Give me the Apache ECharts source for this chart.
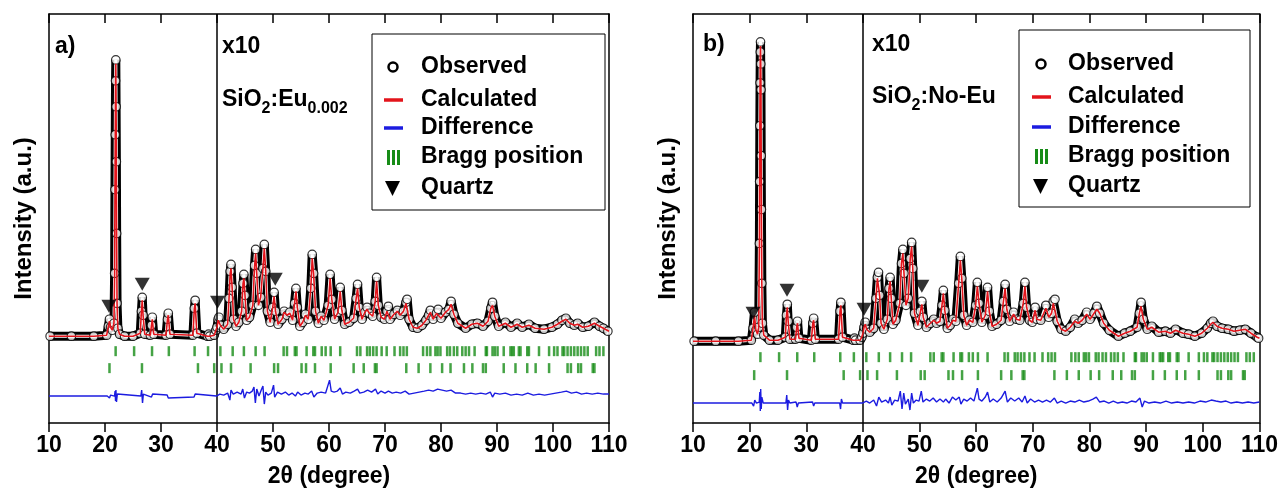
<!DOCTYPE html>
<html>
<head>
<meta charset="utf-8">
<script src="https://cdn.jsdelivr.net/npm/echarts@6/dist/echarts.min.js"></script>
<style>
html,body{margin:0;padding:0;background:#fff;}
#chart{width:1281px;height:493px;}
</style>
</head>
<body>
<div id="chart"></div>
<script>
// ---------- DATA (2θ in degrees, intensity in arbitrary units) ----------
var xTicks = [10, 20, 30, 40, 50, 60, 70, 80, 90, 100, 110];

// Panel a) SiO2:Eu0.002 — observed points [2θ, I]
var obsA = [
 [10.2,87],[14,87],[18,87],[20.3,88],[20.6,97],[20.8,104],[21.0,96],[21.3,93],[21.6,100],[21.72,150],[21.78,234],[21.83,289],[21.88,343],[21.93,364],[21.98,317],[22.03,262],[22.08,190],[22.15,120],[22.3,95],[22.6,89],[23.5,87],[25,87],[26.3,90],[26.5,112],[26.65,126],[26.8,108],[27.1,89],[28.1,88],[28.3,98],[28.45,106],[28.7,89],[30.9,88],[31.15,104],[31.3,110],[31.6,89],[35.7,88],[35.95,115],[36.1,123],[36.4,90],[38.3,87],[38.5,89],[38.7,87],[39.5,88],[39.8,93],[40.0,96],
 [40.2,104],[40.35,106],[40.6,98],[41.2,94],[41.9,99],[42.15,125],[42.35,152],[42.5,159],[42.7,136],[42.95,104],[43.4,97],[43.9,101],[44.4,112],[44.65,140],[44.8,149],[45.0,128],[45.3,103],[45.8,106],[46.4,118],[46.7,158],[46.9,174],[47.1,150],[47.4,118],[47.8,126],[48.2,155],[48.45,179],[48.7,152],[49.0,112],[49.5,101],[49.95,116],[50.2,131],[50.45,112],[50.9,99],[51.6,104],[52.0,112],[52.5,108],[53.0,111],[53.5,103],[53.85,120],[54.1,135],[54.35,116],[54.8,97],[55.3,101],[55.8,109],[56.3,104],[56.75,135],[57.0,169],[57.25,150],[57.6,112],[58.1,100],[58.6,107],[59.1,103],[59.85,118],[60.2,149],[60.5,124],[61.0,104],[61.6,111],[62.0,136],[62.3,113],[62.8,99],[63.6,101],[64.4,105],[64.85,125],[65.1,139],[65.4,116],[65.9,104],[66.4,111],[66.8,116],[67.2,110],[67.8,107],[68.25,122],[68.5,146],[68.8,118],[69.3,106],[69.9,104],[70.35,112],[70.6,117],[70.9,104],[71.6,109],[72.2,113],[72.7,108],[73.3,112],[73.75,121],[73.95,124],[74.3,104],[75.0,96],[75.8,95],[76.6,98],[77.3,103],[77.8,108],[78.1,113],[78.6,104],[79.2,110],[79.5,114],[80.0,105],[80.8,111],[81.4,114],[81.8,122],[82.3,109],[83.0,100],[84.4,95],[85.5,99],[86.5,100],[87.5,97],[88.4,102],[88.9,115],[89.2,121],[89.6,107],[90.3,97],[91.5,101],[92.5,96],[93.6,100],[94.5,96],[95.7,99],[96.8,95],[98.4,94],[99.8,96],[100.8,99],[101.6,103],[102.3,105],[103.0,100],[103.8,98],[104.4,100],[105.3,96],[106.3,97],[107.4,101],[108.3,97],[109.0,95],[109.8,92]
];
// Panel a) calculated profile [2θ, I]
var calcA = [
 [10,87],[14,87],[18,87],[20.3,88],[20.6,97],[20.8,102],[21.0,96],[21.3,93],[21.6,100],[21.72,150],[21.78,234],[21.83,289],[21.88,343],[21.93,360],[21.98,317],[22.03,262],[22.08,190],[22.15,120],[22.3,95],[22.6,89],[23.5,87],[25,87],[26.3,90],[26.5,112],[26.65,123],[26.8,108],[27.1,89],[28.1,88],[28.3,98],[28.45,104],[28.7,89],[30.9,88],[31.15,104],[31.3,108],[31.6,89],[35.7,88],[35.95,115],[36.1,120],[36.4,90],[38.3,87],[38.5,89],[38.7,87],[39.5,88],[39.8,93],[40.0,96],
 [40.2,103],[40.35,104],[40.6,98],[41.2,94],[41.9,99],[42.15,125],[42.35,150],[42.5,155],[42.7,136],[42.95,104],[43.4,97],[43.9,101],[44.4,112],[44.65,140],[44.8,145],[45.0,128],[45.3,103],[45.8,106],[46.4,118],[46.7,156],[46.9,170],[47.1,150],[47.4,118],[47.8,126],[48.2,155],[48.45,175],[48.7,152],[49.0,112],[49.5,101],[49.95,116],[50.2,127],[50.45,112],[50.9,99],[51.6,104],[52.0,111],[52.5,108],[53.0,110],[53.5,103],[53.85,120],[54.1,132],[54.35,116],[54.8,97],[55.3,101],[55.8,108],[56.3,104],[56.75,135],[57.0,165],[57.25,150],[57.6,112],[58.1,100],[58.6,107],[59.1,103],[59.85,118],[60.2,145],[60.5,124],[61.0,104],[61.6,111],[62.0,132],[62.3,113],[62.8,99],[63.6,101],[64.4,105],[64.85,125],[65.1,135],[65.4,116],[65.9,104],[66.4,111],[66.8,114],[67.2,110],[67.8,107],[68.25,122],[68.5,142],[68.8,118],[69.3,106],[69.9,104],[70.35,112],[70.6,114],[70.9,104],[71.6,109],[72.2,112],[72.7,108],[73.3,112],[73.75,120],[73.95,121],[74.3,104],[75.0,96],[75.8,95],[76.6,98],[77.3,103],[77.8,108],[78.1,111],[78.6,104],[79.2,110],[79.5,112],[80.0,105],[80.8,111],[81.4,114],[81.8,119],[82.3,109],[83.0,100],[84.4,95],[85.5,99],[86.5,100],[87.5,97],[88.4,102],[88.9,115],[89.2,118],[89.6,107],[90.3,97],[91.5,100],[92.5,96],[93.6,99],[94.5,96],[95.7,98],[96.8,95],[98.4,94],[99.8,96],[100.8,99],[101.6,102],[102.3,104],[103.0,100],[103.8,98],[104.4,99],[105.3,96],[106.3,97],[107.4,100],[108.3,97],[109.0,95],[110.0,92]
];
// Panel a) difference curve [2θ, I]
var diffA = [
 [10,27],[20.4,27],[20.8,25],[21.0,28],[21.7,27],[21.8,32],[21.88,22],[21.95,33],[22.05,21],[22.2,29],[22.5,27],[26.4,27],[26.55,33],[26.7,20],[26.85,29],[27.1,27],[28.3,26],[28.5,29],[28.7,27],[31.1,28],[31.3,25],[31.5,27],[35.9,26],[36.1,29],[36.3,27],[39.9,27],[40.0,28],[40.5,29],[41.2,28],[41.9,30],[42.3,23],[42.5,33],[42.9,29],[43.6,31],[44.3,29],[44.6,34],[44.9,25],[45.3,31],[45.8,30],[46.3,32],[46.6,36],[46.85,20],[47.1,34],[47.5,27],[47.9,33],[48.2,37],[48.45,19],[48.7,31],[49.1,28],[49.7,30],[50.1,38],[50.3,26],[50.8,31],[51.5,29],[52.2,31],[52.8,28],[53.4,30],[54.0,27],[54.4,31],[55.0,28],[55.7,30],[56.3,29],[56.9,32],[57.3,26],[57.9,30],[58.6,31],[59.4,30],[60.1,43],[60.4,32],[60.9,31],[61.5,32],[62.0,35],[62.4,29],[63.0,31],[63.8,30],[64.5,32],[65.1,34],[65.5,30],[66.2,31],[66.9,33],[67.6,31],[68.3,34],[68.7,29],[69.3,32],[70.0,30],[70.6,32],[71.3,30],[72.0,31],[72.8,30],[73.6,32],[74.3,29],[75.2,30],[76.1,31],[77.0,32],[77.8,33],[78.6,32],[79.4,34],[80.2,33],[81.0,32],[81.8,33],[82.6,30],[83.5,30],[84.4,29],[85.3,30],[86.2,29],[87.1,30],[88.0,29],[88.8,31],[89.2,26],[89.6,30],[90.5,29],[91.5,30],[92.5,28],[93.5,29],[94.5,28],[95.5,30],[96.5,28],[97.5,29],[98.5,28],[99.5,29],[100.5,30],[101.5,31],[102.4,32],[103.3,30],[104.2,31],[105.1,29],[106.0,30],[107.0,29],[108.0,30],[109.0,29],[110,29]
];
// Panel a) quartz markers [2θ, I]
var quartzA = [[20.7,117],[26.65,139],[40.1,121],[50.4,144]];

// Panel b) SiO2:No-Eu — observed points [2θ, I]
var obsB = [
 [10.2,82],[14,82],[18,82],[20.3,83],[20.6,95],[20.85,111],[21.1,93],[21.4,89],[21.6,96],[21.72,180],[21.76,242],[21.8,298],[21.84,341],[21.88,372],[21.92,382],[21.96,360],[22.0,334],[22.04,268],[22.08,214],[22.15,140],[22.25,100],[22.5,88],[23.5,83],[25,83],[26.3,86],[26.5,108],[26.65,119],[26.8,102],[27.1,84],[28.1,84],[28.3,96],[28.45,102],[28.7,85],[30.9,83],[31.15,100],[31.3,105],[31.6,84],[35.7,84],[35.95,112],[36.1,121],[36.4,86],[38.3,83],[38.5,85],[38.7,83],[39.5,83],[39.8,86],[40.0,90],
 [40.2,96],[40.4,101],[40.65,94],[41.2,91],[41.9,95],[42.3,125],[42.55,146],[42.75,151],[42.95,128],[43.2,100],[43.7,94],[44.3,104],[44.6,135],[44.8,146],[45.0,125],[45.3,99],[45.8,103],[46.5,120],[46.8,160],[47.05,174],[47.25,150],[47.6,118],[48.0,125],[48.35,165],[48.6,181],[48.8,155],[49.1,110],[49.7,98],[50.15,112],[50.4,122],[50.65,106],[51.2,96],[51.9,100],[52.5,104],[53.0,100],[53.6,102],[53.95,118],[54.2,133],[54.45,113],[54.9,95],[55.4,98],[55.9,104],[56.4,102],[56.9,140],[57.2,167],[57.45,145],[57.8,108],[58.3,98],[58.8,103],[59.4,101],[59.9,118],[60.2,141],[60.5,120],[61.0,101],[61.6,108],[62.0,136],[62.3,112],[62.8,97],[63.6,99],[64.4,103],[64.8,122],[65.1,139],[65.4,114],[65.9,102],[66.6,111],[67.1,104],[67.7,103],[68.3,120],[68.6,141],[68.9,116],[69.4,103],[69.9,101],[70.4,116],[70.7,104],[71.4,103],[72.3,118],[72.8,106],[73.3,110],[73.6,122],[73.9,124],[74.3,102],[75.0,94],[75.8,92],[76.6,96],[77.4,104],[78.0,100],[78.7,103],[79.5,111],[80.1,104],[80.8,110],[81.3,117],[81.8,110],[82.5,100],[83.5,93],[85.1,87],[86.2,90],[87.2,92],[88.4,96],[88.8,110],[89.1,121],[89.5,104],[90.2,94],[91.0,97],[92.2,91],[93.4,92],[94.3,90],[95.2,94],[96.5,90],[97.5,89],[98.6,87],[99.8,90],[100.8,95],[101.4,100],[101.8,102],[102.5,97],[103.4,95],[104.5,94],[105.5,92],[106.5,93],[107.5,94],[108.5,90],[109.6,86],[109.85,85]
];
// Panel b) calculated profile [2θ, I]
var calcB = [
 [10,82],[14,82],[18,82],[20.3,83],[20.6,95],[20.85,108],[21.1,93],[21.4,89],[21.6,96],[21.72,180],[21.76,242],[21.8,298],[21.84,341],[21.88,370],[21.92,378],[21.96,360],[22.0,334],[22.04,268],[22.08,214],[22.15,140],[22.25,100],[22.5,88],[23.5,83],[25,83],[26.3,86],[26.5,108],[26.65,116],[26.8,102],[27.1,84],[28.1,84],[28.3,96],[28.45,100],[28.7,85],[30.9,83],[31.15,100],[31.3,103],[31.6,84],[35.7,84],[35.95,112],[36.1,118],[36.4,86],[38.3,83],[38.5,85],[38.7,83],[39.5,83],[39.8,86],[40.0,90],
 [40.2,96],[40.4,99],[40.65,94],[41.2,91],[41.9,95],[42.3,125],[42.55,145],[42.75,147],[42.95,128],[43.2,100],[43.7,94],[44.3,104],[44.6,135],[44.8,142],[45.0,125],[45.3,99],[45.8,103],[46.5,120],[46.8,160],[47.05,170],[47.25,150],[47.6,118],[48.0,125],[48.35,165],[48.6,177],[48.8,155],[49.1,110],[49.7,98],[50.15,112],[50.4,119],[50.65,106],[51.2,96],[51.9,100],[52.5,103],[53.0,100],[53.6,102],[53.95,118],[54.2,130],[54.45,113],[54.9,95],[55.4,98],[55.9,103],[56.4,102],[56.9,140],[57.2,163],[57.45,145],[57.8,108],[58.3,98],[58.8,103],[59.4,101],[59.9,118],[60.2,137],[60.5,120],[61.0,101],[61.6,108],[62.0,132],[62.3,112],[62.8,97],[63.6,99],[64.4,103],[64.8,122],[65.1,135],[65.4,114],[65.9,102],[66.6,109],[67.1,104],[67.7,103],[68.3,120],[68.6,137],[68.9,116],[69.4,103],[69.9,101],[70.4,113],[70.7,104],[71.4,103],[72.3,115],[72.8,106],[73.3,110],[73.6,120],[73.9,121],[74.3,102],[75.0,94],[75.8,92],[76.6,96],[77.4,102],[78.0,100],[78.7,103],[79.5,109],[80.1,104],[80.8,110],[81.3,114],[81.8,110],[82.5,100],[83.5,93],[85.1,87],[86.2,90],[87.2,92],[88.4,96],[88.8,110],[89.1,117],[89.5,104],[90.2,94],[91.0,96],[92.2,91],[93.4,92],[94.3,90],[95.2,93],[96.5,90],[97.5,89],[98.6,87],[99.8,90],[100.8,95],[101.4,99],[101.8,101],[102.5,97],[103.4,95],[104.5,94],[105.5,92],[106.5,93],[107.5,94],[108.5,90],[109.6,86],[110.0,85]
];
// Panel b) difference curve [2θ, I]
var diffB = [
 [10,20],[18,20],[20.4,20],[20.7,17],[20.9,23],[21.2,20],[21.7,21],[21.8,31],[21.88,12],[21.95,34],[22.05,14],[22.15,26],[22.4,20],[26.4,20],[26.55,28],[26.7,13],[26.85,23],[27.1,20],[28.2,21],[28.4,16],[28.6,20],[31.1,21],[31.3,17],[31.5,20],[35.9,20],[36.05,14],[36.2,24],[36.4,20],[39.9,20],[40.0,21],[40.6,22],[41.2,20],[41.9,23],[42.4,17],[42.8,26],[43.3,21],[44.0,23],[44.5,20],[44.8,26],[45.1,18],[45.6,23],[46.2,22],[46.6,32],[46.9,14],[47.2,30],[47.5,19],[48.0,24],[48.3,13],[48.6,30],[48.9,20],[49.4,23],[49.9,22],[50.3,32],[50.6,21],[51.2,24],[51.8,22],[52.4,25],[53.0,21],[53.6,24],[54.2,21],[54.6,24],[55.2,20],[55.8,26],[56.4,23],[57.0,26],[57.3,19],[57.8,24],[58.4,22],[59.0,25],[59.6,22],[60.2,35],[60.5,24],[61.0,22],[61.6,26],[62.0,31],[62.4,21],[63.0,24],[63.7,21],[64.4,25],[65.1,32],[65.5,21],[66.1,25],[66.8,22],[67.5,25],[68.1,21],[68.6,27],[69.0,20],[69.6,24],[70.3,21],[71.0,23],[71.7,21],[72.4,23],[73.1,21],[73.8,25],[74.3,20],[75.0,22],[75.8,20],[76.6,22],[77.4,21],[78.2,23],[79.0,21],[79.8,22],[80.6,24],[81.2,26],[81.8,21],[82.6,22],[83.4,20],[84.2,22],[85.0,20],[85.8,21],[86.6,20],[87.4,22],[88.2,21],[88.9,25],[89.3,16],[89.7,22],[90.5,20],[91.5,21],[92.5,20],[93.5,22],[94.5,20],[95.5,21],[96.5,20],[97.5,21],[98.5,20],[99.5,22],[100.5,21],[101.5,23],[102.3,22],[103.2,21],[104.1,22],[105.0,20],[106.0,21],[107.0,20],[108.0,21],[109.0,20],[110,21]
];
// Panel b) quartz markers [2θ, I]
var quartzB = [[20.6,110],[26.6,133],[40.2,114],[50.4,137]];

// Bragg reflection positions (2θ) – upper row and lower row (same phases in both panels)
var braggRow1 = [21.9,25.2,28.4,31.4,36.0,38.4,40.6,42.8,44.8,46.9,48.5,51.9,52.5,53.9,54.2,56.0,57.2,57.5,58.7,59.4,60.3,62.0,65.0,65.6,66.8,67.3,67.9,68.5,69.4,70.3,71.7,72.7,73.3,73.9,76.8,77.5,78.1,79.0,79.4,79.9,81.1,81.6,82.3,82.9,83.8,84.4,85.0,86.0,88.0,88.2,89.2,89.6,90.1,91.2,92.4,92.7,93.0,93.9,94.2,95.4,95.7,97.5,99.3,100.2,100.8,101.7,102.0,102.6,103.2,103.8,104.4,105.0,105.6,106.2,107.7,108.3,109.0];
var braggRow2 = [20.8,26.6,36.6,39.5,40.8,42.5,46.0,50.2,50.9,55.1,55.9,57.5,60.3,64.4,66.2,68.2,68.5,73.8,76.0,78.1,80.2,81.7,84.1,85.6,87.5,88.0,91.2,93.3,95.4,96.9,99.3,102.6,103.2,104.5,105.0,107.1,107.4];

var legendNames = ['Observed', 'Calculated', 'Difference', 'Bragg position', 'Quartz'];

// ---------- CHART ----------
var FONT = '"Liberation Sans", Arial, sans-serif';
var chart = echarts.init(document.getElementById('chart'), null, {renderer: 'canvas'});

var panels = [
  {left: 49, width: 560, obs: obsA, calc: calcA, diff: diffA, quartz: quartzA, row1: 72, row2: 55},
  {left: 693, width: 567, obs: obsB, calc: calcB, diff: diffB, quartz: quartzB, row1: 66, row2: 48}
];

var grids = [], xAxes = [], yAxes = [], series = [];
panels.forEach(function (p, i) {
  grids.push({left: p.left, top: 14, width: p.width, height: 410, show: false});
  xAxes.push({
    gridIndex: i, type: 'value', min: xTicks[0], max: xTicks[xTicks.length - 1], interval: 10,
    position: 'bottom',
    axisLine: {show: true, onZero: false, lineStyle: {color: '#000', width: 1.5}},
    axisTick: {show: true, inside: false, length: 9, lineStyle: {color: '#000', width: 1.5}},
    axisLabel: {show: true, color: '#000', fontFamily: FONT, fontWeight: 'bold', fontSize: 23, margin: 11},
    splitLine: {show: false},
    name: '2\u03b8 (degree)', nameLocation: 'middle', nameGap: 42,
    nameTextStyle: {color: '#000', fontFamily: FONT, fontWeight: 'bold', fontSize: 23}
  });
  xAxes.push({
    gridIndex: i, type: 'value', min: xTicks[0], max: xTicks[xTicks.length - 1], interval: 10,
    position: 'top',
    axisLine: {show: true, onZero: false, lineStyle: {color: '#000', width: 1.5}},
    axisTick: {show: true, inside: true, length: 9, lineStyle: {color: '#000', width: 1.5}},
    axisLabel: {show: false}, splitLine: {show: false}
  });
  yAxes.push({
    gridIndex: i, type: 'value', min: 0, max: 410, position: 'left',
    axisLine: {show: true, onZero: false, lineStyle: {color: '#000', width: 1.5}},
    axisTick: {show: false}, axisLabel: {show: false}, splitLine: {show: false},
    name: 'Intensity (a.u.)', nameLocation: 'middle', nameGap: 13, nameRotate: 90,
    nameTextStyle: {color: '#000', fontFamily: FONT, fontWeight: 'bold', fontSize: 24}
  });
  yAxes.push({
    gridIndex: i, type: 'value', min: 0, max: 410, position: 'right',
    axisLine: {show: true, onZero: false, lineStyle: {color: '#000', width: 1.5}},
    axisTick: {show: false}, axisLabel: {show: false}, splitLine: {show: false}
  });
  var xi = 2 * i, yi = 2 * i;
  series.push({
    name: 'obs-band', type: 'line', xAxisIndex: xi, yAxisIndex: yi, data: p.obs,
    symbol: 'none', lineStyle: {color: '#000', width: 9}, z: 2, silent: true,
    markLine: {silent: true, symbol: 'none', label: {show: false},
      lineStyle: {color: '#000', width: 1.5, type: 'solid'}, data: [{xAxis: 40}]}
  });
  series.push({
    name: 'obs-core', type: 'line', xAxisIndex: xi, yAxisIndex: yi, data: p.obs,
    symbol: 'none', lineStyle: {color: '#fff', width: 3}, z: 3, silent: true
  });
  series.push({
    name: 'Observed', type: 'scatter', xAxisIndex: xi, yAxisIndex: yi, data: p.obs,
    symbol: 'circle', symbolSize: 8.5,
    itemStyle: {color: '#fff', borderColor: '#000', borderWidth: 1.2}, z: 4
  });
  series.push({
    name: 'Calculated', type: 'line', xAxisIndex: xi, yAxisIndex: yi, data: p.calc,
    symbol: 'none', lineStyle: {color: '#e3141b', width: 1.6}, z: 5
  });
  series.push({
    name: 'Difference', type: 'line', xAxisIndex: xi, yAxisIndex: yi, data: p.diff,
    symbol: 'none', lineStyle: {color: '#1c1ce0', width: 1.4}, z: 5
  });
  series.push({
    name: 'Bragg position', type: 'scatter', xAxisIndex: xi, yAxisIndex: yi,
    data: braggRow1.map(function (t) { return [t, p.row1]; }),
    symbol: 'rect', symbolSize: [2.5, 10], itemStyle: {color: '#178c17'}, z: 5
  });
  series.push({
    name: 'Bragg position', type: 'scatter', xAxisIndex: xi, yAxisIndex: yi,
    data: braggRow2.map(function (t) { return [t, p.row2]; }),
    symbol: 'rect', symbolSize: [2.5, 10], itemStyle: {color: '#178c17'}, z: 5
  });
  series.push({
    name: 'Quartz', type: 'scatter', xAxisIndex: xi, yAxisIndex: yi, data: p.quartz,
    symbol: 'triangle', symbolRotate: 180, symbolSize: [15, 13], itemStyle: {color: '#000'}, z: 6
  });
});

// ---------- legend boxes and annotations (graphic) ----------
function legendBox(x, y, w, h, rowY, iconX, textX) {
  var els = [];
  els.push({type: 'rect', shape: {x: x, y: y, width: w, height: h}, style: {fill: '#fff', stroke: '#000', lineWidth: 1}, z: 10});
  els.push({type: 'circle', shape: {cx: iconX, cy: rowY[0], r: 4.5}, style: {fill: '#fff', stroke: '#000', lineWidth: 2.5}, z: 11});
  els.push({type: 'line', shape: {x1: iconX - 9, y1: rowY[1], x2: iconX + 10, y2: rowY[1]}, style: {stroke: '#e3141b', lineWidth: 3.5}, z: 11});
  els.push({type: 'line', shape: {x1: iconX - 9, y1: rowY[2], x2: iconX + 10, y2: rowY[2]}, style: {stroke: '#1c1ce0', lineWidth: 3.5}, z: 11});
  [-6, -1, 4].forEach(function (dx) {
    els.push({type: 'rect', shape: {x: iconX + dx, y: rowY[3] - 7, width: 3, height: 15}, style: {fill: '#178c17'}, z: 11});
  });
  els.push({type: 'polygon', shape: {points: [[iconX - 8, rowY[4] - 7], [iconX + 7, rowY[4] - 7], [iconX - 0.5, rowY[4] + 8]]}, style: {fill: '#000'}, z: 11});
  legendNames.forEach(function (n, k) {
    els.push({type: 'text', x: textX, y: rowY[k], style: {text: n, fill: '#000', font: 'bold 23px ' + FONT, textVerticalAlign: 'middle'}, z: 11});
  });
  return els;
}
function label(x, y, text, rich) {
  return {type: 'text', x: x, y: y, z: 11, style: {text: text, fill: '#000', font: 'bold 23px ' + FONT, textVerticalAlign: 'middle', rich: rich}};
}
var richSub = {
  n: {fontFamily: FONT, fontWeight: 'bold', fontSize: 23, lineHeight: 34, verticalAlign: 'middle'},
  s: {fontFamily: FONT, fontWeight: 'bold', fontSize: 16, lineHeight: 34, verticalAlign: 'bottom'}
};
var graphics = []
  .concat(legendBox(372, 34, 233, 176, [67, 100, 128, 157, 188], 393, 421))
  .concat(legendBox(1019, 30, 231, 177, [64, 97, 127, 156, 186], 1041, 1068))
  .concat([
    label(55, 47, 'a)'),
    label(222, 47, 'x10'),
    label(222, 100, '{n|SiO}{s|2}{n|:Eu}{s|0.002}', richSub),
    label(703, 45, 'b)'),
    label(872, 45, 'x10'),
    label(872, 97, '{n|SiO}{s|2}{n|:No-Eu}', richSub)
  ]);

chart.setOption({
  animation: false,
  backgroundColor: '#fff',
  textStyle: {fontFamily: FONT},
  grid: grids, xAxis: xAxes, yAxis: yAxes, series: series,
  graphic: graphics
});
</script>
</body>
</html>
